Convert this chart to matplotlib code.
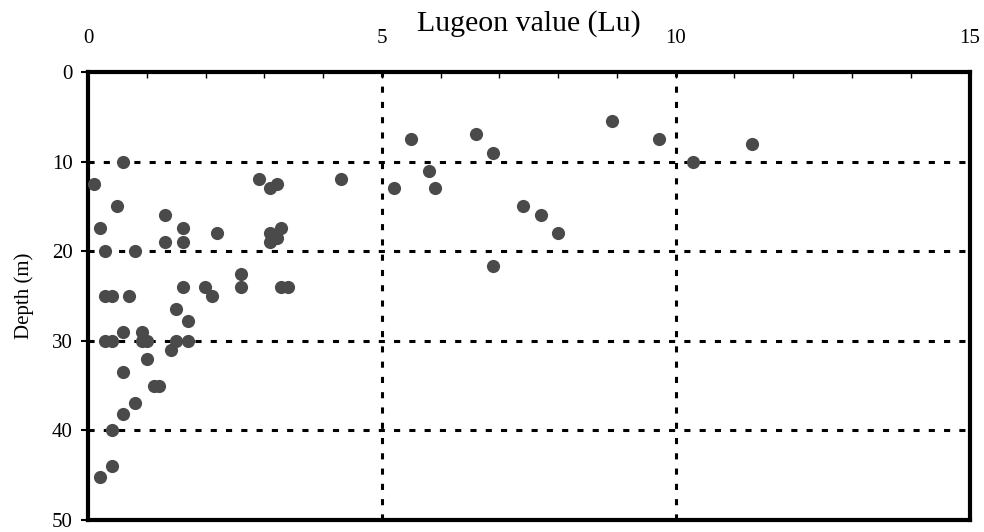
import numpy as np
import matplotlib
matplotlib.use("Agg")
import matplotlib.pyplot as plt

plt.rcParams['font.family'] = ['Liberation Serif', 'DejaVu Serif']

# Lugeon value (Lu) and depth (m)
lugeon = [0.1, 0.2, 0.29, 0.6, 0.49,
          0.29, 0.41, 0.7, 0.8,
          0.29, 0.41, 0.6, 0.92, 0.92, 1.0, 1.5, 1.7,
          1.41, 1.0, 0.6, 1.12, 1.21, 0.8, 0.6, 0.41, 0.41, 0.2,
          1.5, 1.7,
          2.91, 3.1, 3.22, 4.31,
          1.31, 1.62, 2.2, 3.1, 3.22, 3.29, 3.1, 1.31, 1.62,
          2.61, 2.61, 1.62, 1.99, 2.11, 3.29, 3.41,
          5.5, 6.61, 6.9, 8.91, 9.72, 10.29, 11.3, 5.8, 5.2, 5.91,
          7.41, 7.7, 8.0, 6.9]
depth = [12.5, 17.4, 20, 10, 15,
         25, 25, 25, 20,
         30, 30, 29, 29, 30, 30, 30, 30,
         31, 32, 33.5, 35, 35, 37, 38.2, 40, 44, 45.2,
         26.5, 27.8,
         11.9, 12.9, 12.5, 11.9,
         16, 17.4, 18, 18, 18.5, 17.4, 19, 19, 19,
         22.5, 24, 24, 24, 25, 24, 24,
         7.5, 6.9, 9, 5.5, 7.5, 10, 8, 11, 13, 13,
         15, 16, 18, 21.6]

x_ticks = [0, 5, 10, 15]
y_ticks = [0, 10, 20, 30, 40, 50]

fig = plt.figure(figsize=(9.84, 5.32), dpi=100)
ax = fig.add_axes([0.0894, 0.0226, 0.8959, 0.8421])

ax.scatter(lugeon, depth, s=90, color='#4a4a4a', zorder=3, linewidths=0)

ax.set_xlim(0, 15)
ax.set_ylim(50, 0)

# dotted grid
for v in [5, 10]:
    ax.axvline(v, color='black', lw=2.2, linestyle=(0, (2, 3)), zorder=1)
for v in [10, 20, 30, 40]:
    ax.axhline(v, color='black', lw=2.2, linestyle=(0, (2, 3)), zorder=1)

ax.xaxis.tick_top()
ax.set_xticks(np.arange(0, 16, 1), minor=True)
ax.set_xticks(x_ticks)
ax.set_xticklabels([str(t) for t in x_ticks], fontsize=15)
ax.tick_params(axis='x', which='both', direction='in', length=4, width=1, pad=17)
ax.set_yticks(y_ticks)
ax.set_yticklabels([str(t) for t in y_ticks], fontsize=15)
ax.tick_params(axis='y', direction='out', length=5, width=1.5, pad=6)

for sp in ax.spines.values():
    sp.set_linewidth(3)

ax.text(0.5, 1.109, 'Lugeon value (Lu)', transform=ax.transAxes,
        ha='center', va='center', fontsize=21.5)
ax.set_ylabel('Depth (m)', fontsize=15, labelpad=13)

fig.savefig('out.png', dpi=100)
